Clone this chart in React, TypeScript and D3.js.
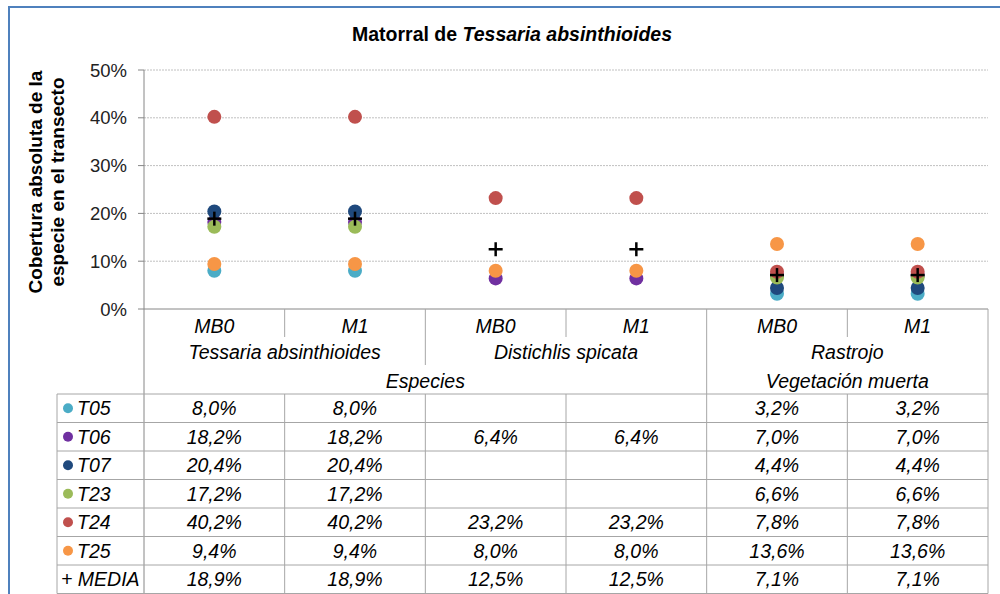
import React from "react";
import * as d3 from "d3";

const subcats = ["MB0", "M1", "MB0", "M1", "MB0", "M1"];
const species = ["Tessaria absinthioides", "Distichlis spicata", "Rastrojo"];
const groups = ["Especies", "Vegetación muerta"];
const yTicks = [0, 0.1, 0.2, 0.3, 0.4, 0.5];

const seriesNames = ["T05", "T06", "T07", "T23", "T24", "T25"];
const seriesColors = ["#4bacc6", "#7030a0", "#1f497d", "#9bbb59", "#c0504d", "#f79646"];
const T05 = [8.0, 8.0, null, null, 3.2, 3.2];
const T06 = [18.2, 18.2, 6.4, 6.4, 7.0, 7.0];
const T07 = [20.4, 20.4, null, null, 4.4, 4.4];
const T23 = [17.2, 17.2, null, null, 6.6, 6.6];
const T24 = [40.2, 40.2, 23.2, 23.2, 7.8, 7.8];
const T25 = [9.4, 9.4, 8.0, 8.0, 13.6, 13.6];
const MEDIA = [18.9, 18.9, 12.5, 12.5, 7.1, 7.1];
const seriesValues = [T05, T06, T07, T23, T24, T25];

const FONT = "'Liberation Sans', Arial, sans-serif";
const FS = 19.5;

export default function App() {
  const left = 144, right = 988, top = 70, bottom = 309;
  const x = d3.scaleBand<number>().domain(d3.range(subcats.length)).range([left, right]).padding(0);
  const y = d3.scaleLinear().domain([0, 0.5]).range([bottom, top]);
  const bw = x.bandwidth();
  const cx = (i: number) => (x(i) as number) + bw / 2;
  const fmt = (v: number) => v.toFixed(1).replace(".", ",") + "%";
  const pct = d3.format(".0%");

  const tableTop = 394;
  const rowH = 28.5;
  const rows = [...seriesNames.map((n, i) => ({ name: n, vals: seriesValues[i], color: seriesColors[i] })), { name: "MEDIA", vals: MEDIA, color: null as string | null }];
  const tableBottom = tableTop + rowH * rows.length;
  const lineC = "#a6a6a6";

  const bounds = d3.range(subcats.length + 1).map((i) => (i < subcats.length ? (x(i) as number) : right));

  return (
    <svg width={1000} height={594} style={{ position: "absolute", left: 0, top: 0, background: "#fff" }} fontFamily={FONT}>
      <rect x={0} y={0} width={1000} height={594} fill="#fff" />
      <rect x={9} y={7} width={1010} height={600} fill="none" stroke="#4f81bd" strokeWidth={2} />
      {/* title */}
      <text x={512} y={41} textAnchor="middle" fontSize={19.5} fontWeight="bold" fill="#000">
        Matorral de <tspan fontStyle="italic">Tessaria absinthioides</tspan>
      </text>
      {/* y axis title */}
      <g transform="translate(35,182) rotate(-90)">
        <text x={0} y={7} textAnchor="middle" fontSize={19} fontWeight="bold" fill="#000">Cobertura absoluta de la</text>
        <text x={0} y={29} textAnchor="middle" fontSize={19} fontWeight="bold" fill="#000">especie en el transecto</text>
      </g>
      {/* gridlines */}
      {yTicks.slice(1).map((t) => (
        <line key={"g" + t} x1={left} x2={right} y1={y(t)} y2={y(t)} stroke="#c0c0c0" strokeWidth={1} strokeDasharray="2,1" />
      ))}
      {/* ticks + labels */}
      {yTicks.map((t) => (
        <g key={"t" + t}>
          <line x1={left - 6} x2={left} y1={y(t)} y2={y(t)} stroke="#868686" />
          <text x={127} y={y(t) + 6.5} textAnchor="end" fontSize={18.5} fill="#222">{pct(t)}</text>
        </g>
      ))}
      {/* y axis */}
      <line x1={left} x2={left} y1={top} y2={tableBottom} stroke="#868686" />
      {/* x axis line */}
      <line x1={left} x2={right} y1={bottom} y2={bottom} stroke="#868686" />
      {/* header separators */}
      {bounds.map((bx, i) => {
        if (i === 0) return null;
        let y2 = 337;
        if (i === 2) y2 = 365;
        if (i === 4 || i === 6) y2 = tableTop;
        return <line key={"hs" + i} x1={bx} x2={bx} y1={bottom} y2={y2} stroke={lineC} />;
      })}
      {/* header labels */}
      {subcats.map((s, i) => (
        <text key={"sc" + i} x={cx(i)} y={333} textAnchor="middle" fontSize={FS} fontStyle="italic" fill="#000">{s}</text>
      ))}
      {species.map((s, i) => (
        <text key={"sp" + i} x={(bounds[i * 2] + bounds[i * 2 + 2]) / 2} y={359} textAnchor="middle" fontSize={FS} fontStyle="italic" fill="#000">{s}</text>
      ))}
      <text x={(bounds[0] + bounds[4]) / 2} y={388} textAnchor="middle" fontSize={FS} fontStyle="italic" fill="#000">{groups[0]}</text>
      <text x={(bounds[4] + bounds[6]) / 2} y={388} textAnchor="middle" fontSize={FS} fontStyle="italic" fill="#000">{groups[1]}</text>
      {/* table grid */}
      {d3.range(rows.length + 1).map((r) => (
        <line key={"rl" + r} x1={57} x2={right} y1={tableTop + r * rowH} y2={tableTop + r * rowH} stroke={lineC} />
      ))}
      <line x1={57} x2={57} y1={tableTop} y2={tableBottom} stroke={lineC} />
      {bounds.slice(1).map((bx, i) => (
        <line key={"vl" + i} x1={bx} x2={bx} y1={tableTop} y2={tableBottom} stroke={lineC} />
      ))}
      {rows.map((r, ri) => {
        const yc = tableTop + ri * rowH + rowH / 2;
        return (
          <g key={"row" + ri}>
            {r.color ? (
              <>
                <circle cx={68} cy={yc} r={5} fill={r.color} />
                <text x={77} y={yc + 7} fontSize={FS} fontStyle="italic" fill="#000">{r.name}</text>
              </>
            ) : (
              <text x={61} y={yc + 7} fontSize={FS} fontStyle="italic" fill="#000">+ {r.name}</text>
            )}
            {r.vals.map((v, ci) =>
              v == null ? null : (
                <text key={ci} x={cx(ci)} y={yc + 7} textAnchor="middle" fontSize={FS} fontStyle="italic" fill="#000">{fmt(v)}</text>
              )
            )}
          </g>
        );
      })}
      {/* markers */}
      {seriesValues.map((vals, si) =>
        vals.map((v, ci) =>
          v == null ? null : <circle key={si + "-" + ci} cx={cx(ci)} cy={y(v / 100)} r={7} fill={seriesColors[si]} />
        )
      )}
      {MEDIA.map((v, ci) => (
        <g key={"m" + ci} stroke="#000" strokeWidth={2.5}>
          <line x1={cx(ci) - 7} x2={cx(ci) + 7} y1={y(v / 100)} y2={y(v / 100)} />
          <line x1={cx(ci)} x2={cx(ci)} y1={y(v / 100) - 7} y2={y(v / 100) + 7} />
        </g>
      ))}
    </svg>
  );
}
